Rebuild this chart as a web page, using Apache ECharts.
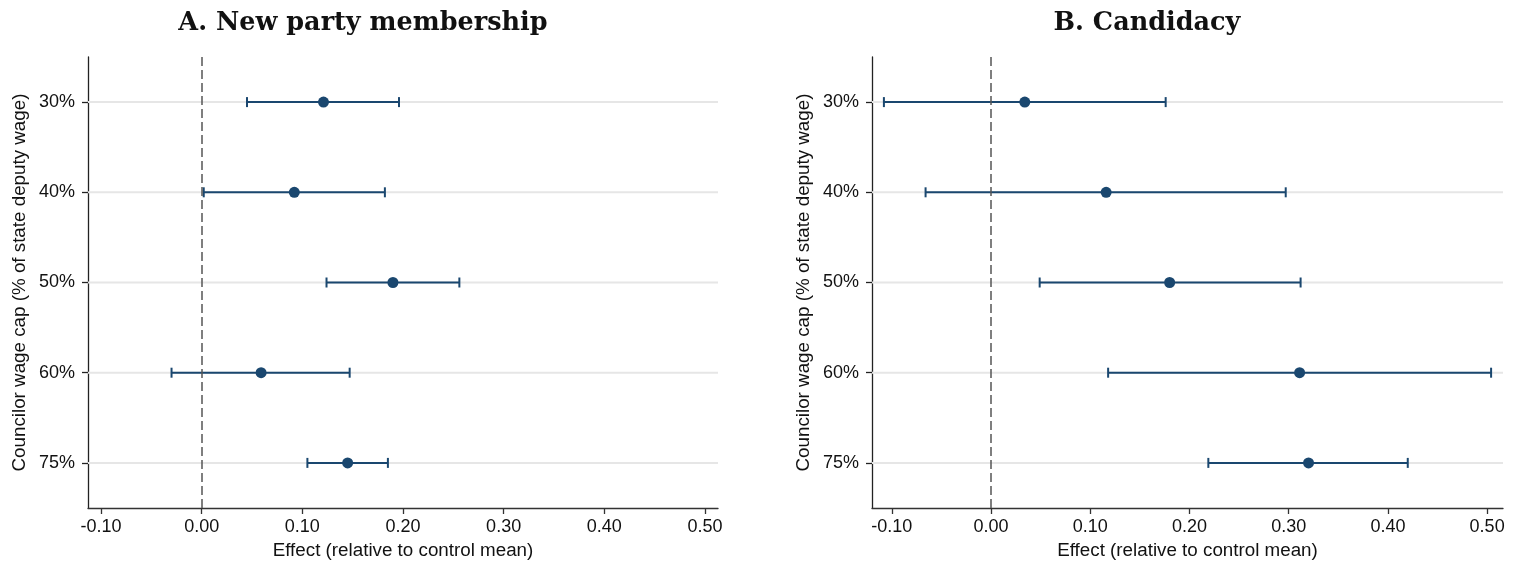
<!DOCTYPE html>
<html><head><meta charset="utf-8">
<script src="https://cdn.jsdelivr.net/npm/echarts@6/dist/echarts.min.js"></script>
<style>html,body{margin:0;padding:0;background:#fff}#c{width:1515px;height:567px}</style>
</head><body><div id="c"></div>
<script>
// ---- data ----
const categories = ['30%', '40%', '50%', '60%', '75%'];
const xTickValues = [-0.1, 0, 0.1, 0.2, 0.3, 0.4, 0.5];
const titleA = 'A. New party membership';
const titleB = 'B. Candidacy';
const yAxisName = 'Councilor wage cap (% of state deputy wage)';
const xAxisName = 'Effect (relative to control mean)';

const membershipEst = [0.121, 0.092, 0.190, 0.059, 0.145];
const membershipLo  = [0.045, 0.002, 0.124, -0.030, 0.105];
const membershipHi  = [0.196, 0.182, 0.256, 0.147, 0.185];

const candidacyEst = [0.034, 0.116, 0.180, 0.311, 0.320];
const candidacyLo  = [-0.108, -0.066, 0.049, 0.118, 0.219];
const candidacyHi  = [0.176, 0.297, 0.312, 0.504, 0.420];

// ---- styles ----
const NAVY = '#1a476f';
const FONT = 'Liberation Sans, Arial, sans-serif';
const chart = echarts.init(document.getElementById('c'), null, {renderer: 'canvas'});

const grids = [
  {left: 88, top: 57, width: 630, height: 451},
  {left: 872, top: 57, width: 631, height: 451}
];
const xRanges = [[-0.113, 0.513], [-0.120, 0.516]];

function xAxisCfg(i) {
  return {
    type: 'value', gridIndex: i, min: xRanges[i][0], max: xRanges[i][1],
    name: xAxisName, nameLocation: 'middle', nameGap: 30,
    nameTextStyle: {fontFamily: FONT, fontSize: 18.8, color: '#111'},
    axisLine: {show: true, onZero: false, lineStyle: {color: '#333', width: 1.3}},
    axisTick: {show: true, length: 6, customValues: xTickValues, lineStyle: {color: '#333', width: 1.3}},
    axisLabel: {customValues: xTickValues, margin: 10, fontFamily: FONT, fontSize: 18, color: '#111',
      formatter: v => v.toFixed(2)},
    splitLine: {show: false}
  };
}
function yAxisCfg(i) {
  return {
    type: 'category', gridIndex: i, data: categories, inverse: true, boundaryGap: true,
    name: yAxisName, nameLocation: 'middle', nameGap: 59, nameRotate: 90,
    nameTextStyle: {fontFamily: FONT, fontSize: 18.8, color: '#111'},
    axisLine: {show: true, onZero: false, lineStyle: {color: '#222', width: 1.3}},
    axisTick: {show: true, alignWithLabel: true, length: 6, lineStyle: {color: '#222', width: 1.3}},
    axisLabel: {margin: 13, fontFamily: FONT, fontSize: 18, color: '#111'},
    splitLine: {show: false}
  };
}

function panelSeries(i, est, lo, hi) {
  const rows = categories.map((c, k) => [lo[k], hi[k], k]);
  return [
    { // horizontal reference lines at each category + zero line
      type: 'custom', xAxisIndex: i, yAxisIndex: i, z: 1, silent: true,
      data: categories.map((c, k) => [0, k]),
      renderItem: function (params, api) {
        const y = api.coord([0, api.value(1)])[1];
        const cs = params.coordSys;
        return {type: 'line', shape: {x1: cs.x, y1: y, x2: cs.x + cs.width, y2: y},
          style: {stroke: '#e6e6e6', lineWidth: 2}};
      },
      markLine: {
        silent: true, symbol: ['none', 'none'], label: {show: false},
        lineStyle: {color: '#555', width: 1.5, type: [9, 4]},
        data: [{xAxis: 0}]
      }
    },
    { // confidence intervals with caps
      type: 'custom', xAxisIndex: i, yAxisIndex: i, z: 3, silent: true,
      data: rows,
      renderItem: function (params, api) {
        const p1 = api.coord([api.value(0), api.value(2)]);
        const p2 = api.coord([api.value(1), api.value(2)]);
        const h = 5;
        const st = {stroke: NAVY, lineWidth: 2};
        return {type: 'group', children: [
          {type: 'line', shape: {x1: p1[0], y1: p1[1], x2: p2[0], y2: p2[1]}, style: st},
          {type: 'line', shape: {x1: p1[0], y1: p1[1] - h, x2: p1[0], y2: p1[1] + h}, style: st},
          {type: 'line', shape: {x1: p2[0], y1: p2[1] - h, x2: p2[0], y2: p2[1] + h}, style: st}
        ]};
      }
    },
    { // point estimates
      type: 'scatter', xAxisIndex: i, yAxisIndex: i, z: 4, silent: true,
      symbol: 'circle', symbolSize: 11,
      itemStyle: {color: NAVY, opacity: 1},
      data: est.map((v, k) => [v, k])
    }
  ];
}

const option = {
  animation: false,
  backgroundColor: '#ffffff',
  title: [
    {text: titleA, left: 363, top: 10, textAlign: 'center', padding: 0,
      textStyle: {fontFamily: 'DejaVu Serif', fontWeight: 'bold', fontSize: 25.5, color: '#111'}},
    {text: titleB, left: 1147, top: 10, textAlign: 'center', padding: 0,
      textStyle: {fontFamily: 'DejaVu Serif', fontWeight: 'bold', fontSize: 25.5, color: '#111'}}
  ],
  grid: grids,
  xAxis: [xAxisCfg(0), xAxisCfg(1)],
  yAxis: [yAxisCfg(0), yAxisCfg(1)],
  series: [
    ...panelSeries(0, membershipEst, membershipLo, membershipHi),
    ...panelSeries(1, candidacyEst, candidacyLo, candidacyHi)
  ]
};
chart.setOption(option);
</script>
</body></html>
